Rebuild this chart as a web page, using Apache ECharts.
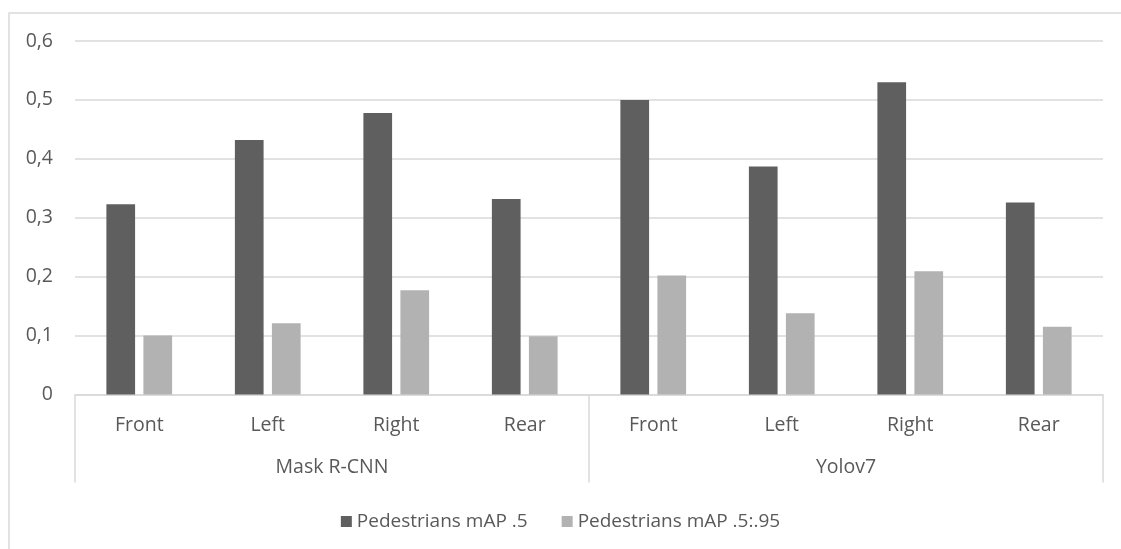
<!DOCTYPE html>
<html>
<head>
<meta charset="utf-8">
<script src="https://cdn.jsdelivr.net/npm/echarts@6/dist/echarts.min.js"></script>
<style>
html,body{margin:0;padding:0;background:#fff;}
#chart{width:1121px;height:549px;}
</style>
</head>
<body>
<div id="chart"></div>
<script>
const innerCategories = ['Front','Left','Right','Rear','Front','Left','Right','Rear'];
const groupCategories = ['Mask R-CNN','Yolov7'];
const seriesNames = ['Pedestrians mAP .5','Pedestrians mAP .5:.95'];
const map50 = [0.323, 0.432, 0.478, 0.332, 0.500, 0.387, 0.530, 0.326];
const map5095 = [0.100, 0.121, 0.177, 0.099, 0.202, 0.138, 0.209, 0.115];
const yTicks = ['0','0,1','0,2','0,3','0,4','0,5','0,6'];

const FONT = 'Open Sans';
const TXT = '#595959';
const LINE = '#d9d9d9';

const chart = echarts.init(document.getElementById('chart'), null, {renderer:'canvas'});
chart.setOption({
  animation:false,
  backgroundColor:'#fff',
  textStyle:{fontFamily:FONT},
  graphic:[{
    type:'rect', silent:true, z:-1,
    shape:{x:9, y:13, width:1300, height:700},
    style:{fill:'none', stroke:LINE, lineWidth:1.5}
  }],
  grid:{left:75, right:18, top:41, bottom:154.5},
  legend:{
    data:seriesNames,
    top:507, left:'center',
    icon:'rect', itemWidth:11, itemHeight:11, itemGap:34,
    textStyle:{fontFamily:FONT, fontSize:19, color:TXT}
  },
  xAxis:[{
    type:'category', data:innerCategories, position:'bottom',
    axisLine:{show:true, lineStyle:{color:LINE, width:1.5}},
    axisTick:{show:false},
    axisLabel:{interval:0, margin:21, fontFamily:FONT, fontSize:19.5, color:TXT}
  },{
    type:'category', data:groupCategories, position:'bottom',
    axisLine:{show:false},
    axisTick:{show:true, length:88, interval:0, lineStyle:{color:LINE, width:1.5}},
    axisLabel:{interval:0, margin:63, fontFamily:FONT, fontSize:19.5, color:TXT},
    splitLine:{show:false}
  }],
  yAxis:{
    type:'value', min:0, max:0.6, interval:0.1,
    axisLine:{show:false}, axisTick:{show:false},
    splitLine:{show:true, lineStyle:{color:LINE, width:1.5}},
    axisLabel:{margin:22, fontFamily:FONT, fontSize:19.5, color:TXT,
      formatter:function(v){ return yTicks[Math.round(v*10)]; }}
  },
  series:[{
    name:seriesNames[0], type:'bar', xAxisIndex:0, data:map50,
    barWidth:28.7, barGap:'29%',
    itemStyle:{color:'#5f5f5f'}
  },{
    name:seriesNames[1], type:'bar', xAxisIndex:0, data:map5095,
    barWidth:28.7, barGap:'29%',
    itemStyle:{color:'#b2b2b2'}
  }]
});
</script>
</body>
</html>
